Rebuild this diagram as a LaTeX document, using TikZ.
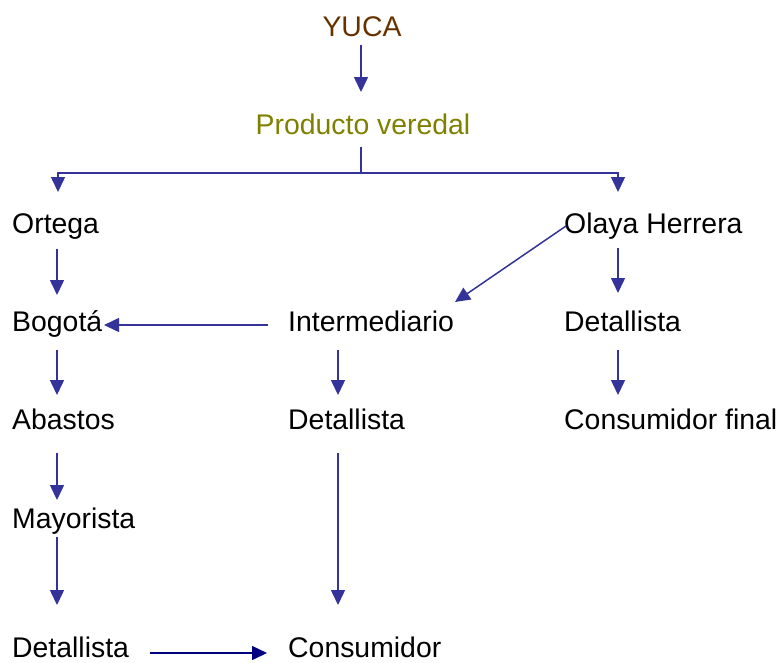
\documentclass[tikz,border=0pt]{standalone}
\usepackage{fontspec}
\setmainfont{Liberation Sans}
\usetikzlibrary{arrows.meta}
\definecolor{arrblue}{HTML}{333399}
\definecolor{navyarr}{HTML}{000080}
\definecolor{yucabrown}{HTML}{663300}
\definecolor{olivetxt}{HTML}{808000}
\begin{document}
\begin{tikzpicture}[x=1pt,y=-1pt,
  lbl/.style={inner sep=0pt,anchor=base west,font=\fontsize{28.4}{32}\selectfont},
  arr/.style={draw=arrblue,line width=1.5pt,-{Triangle[length=15pt,width=14pt]}},
  plain/.style={draw=arrblue,line width=1.5pt}]
\useasboundingbox (0,0) rectangle (778,662);
\node[lbl,anchor=base,text=yucabrown] (yuca) at (362,36) {YUCA};
\node[lbl,anchor=base,text=olivetxt] (prod) at (363,134) {Producto veredal};
\node[lbl] (ortega) at (12,233) {Ortega};
\node[lbl] (olaya) at (564,233) {Olaya Herrera};
\node[lbl] (bogota) at (12,331) {Bogotá};
\node[lbl] (inter) at (288,331) {Intermediario};
\node[lbl] (det1) at (564,331) {Detallista};
\node[lbl] (abastos) at (12,429) {Abastos};
\node[lbl] (det2) at (288,429) {Detallista};
\node[lbl] (consf) at (564,429) {Consumidor final};
\node[lbl] (mayor) at (12,528) {Mayorista};
\node[lbl] (det3) at (12,657) {Detallista};
\node[lbl] (cons) at (288,657) {Consumidor};
% YUCA -> Producto
\draw[arr] ([shift={(-1,9)}]yuca.base) -- ([shift={(-2,-42)}]prod.base);
% Producto -> split
\coordinate (split) at ([shift={(-2,39)}]prod.base);
\draw[plain] ([shift={(-2,13)}]prod.base) -- (split);
\draw[arr] (split) -| ([shift={(46,-41)}]ortega.base west);
\draw[arr] (split) -| ([shift={(54,-41)}]olaya.base west);
% left column
\draw[arr] ([shift={(45,16)}]ortega.base west) -- ([shift={(45,-36)}]bogota.base west);
\draw[arr] ([shift={(45,19)}]bogota.base west) -- ([shift={(45,-34)}]abastos.base west);
\draw[arr] ([shift={(45,24)}]abastos.base west) -- ([shift={(45,-28)}]mayor.base west);
\draw[arr] ([shift={(45,9)}]mayor.base west) -- ([shift={(45,-52)}]det3.base west);
% Intermediario -> Bogota
\draw[arr] ([shift={(-20,-6)}]inter.base west) -- ([shift={(92,-6)}]bogota.base west);
% Olaya -> Intermediario (diagonal)
\draw[arr] ([shift={(2,-7)}]olaya.base west) -- ([shift={(167,-29)}]inter.base west);
% middle column
\draw[arr] ([shift={(50,19)}]inter.base west) -- ([shift={(50,-34)}]det2.base west);
\draw[arr] ([shift={(50,24)}]det2.base west) -- ([shift={(50,-52)}]cons.base west);
% right column
\draw[arr] ([shift={(54,15)}]olaya.base west) -- ([shift={(54,-38)}]det1.base west);
\draw[arr] ([shift={(54,19)}]det1.base west) -- ([shift={(54,-34)}]consf.base west);
% bottom
\draw[draw=navyarr,line width=1.5pt,-{Triangle[length=15pt,width=14pt]}] ([shift={(138,-4)}]det3.base west) -- ([shift={(-21,-4)}]cons.base west);
\end{tikzpicture}
\end{document}
